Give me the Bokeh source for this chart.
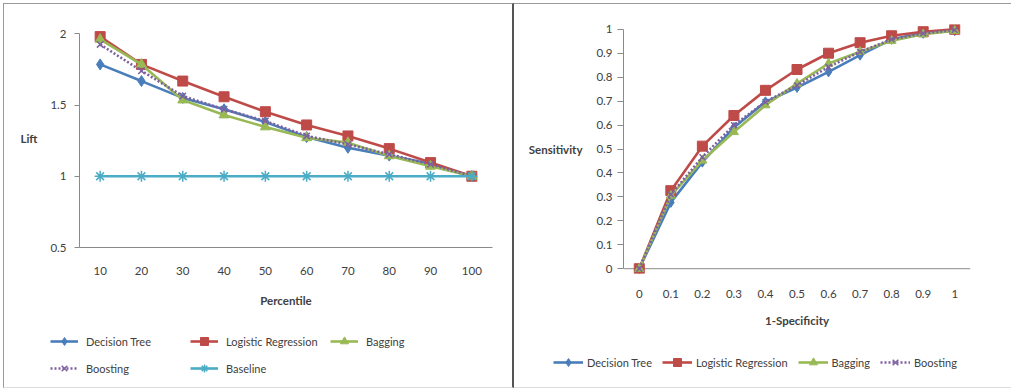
from bokeh.plotting import figure
from bokeh.layouts import row, column
from bokeh.models import Range1d, FixedTicker, Legend, LegendItem, Span
from bokeh.embed import file_html
from bokeh.resources import INLINE

# ---------------- data: lift chart ----------------
percentiles = ["10", "20", "30", "40", "50", "60", "70", "80", "90", "100"]
lift_decision_tree = [1.785, 1.668, 1.55, 1.47, 1.38, 1.275, 1.20, 1.145, 1.088, 1.00]
lift_logistic = [1.98, 1.785, 1.668, 1.558, 1.453, 1.36, 1.283, 1.194, 1.096, 1.00]
lift_bagging = [1.96, 1.785, 1.535, 1.43, 1.346, 1.27, 1.236, 1.143, 1.07, 1.00]
lift_boosting = [1.925, 1.74, 1.563, 1.47, 1.388, 1.283, 1.224, 1.154, 1.084, 1.00]
lift_baseline = [1.0, 1.0, 1.0, 1.0, 1.0, 1.0, 1.0, 1.0, 1.0, 1.0]
lift_ticks = [0.5, 1, 1.5, 2]
lift_series = ["Decision Tree", "Logistic Regression", "Bagging", "Boosting", "Baseline"]

# ---------------- data: ROC chart ----------------
one_minus_spec = ["0", "0.1", "0.2", "0.3", "0.4", "0.5", "0.6", "0.7", "0.8", "0.9", "1"]
roc_decision_tree = [0, 0.277, 0.445, 0.59, 0.697, 0.757, 0.822, 0.892, 0.958, 0.983, 0.994]
roc_logistic = [0, 0.326, 0.512, 0.64, 0.745, 0.832, 0.90, 0.944, 0.973, 0.99, 1.0]
roc_bagging = [0, 0.305, 0.452, 0.571, 0.683, 0.773, 0.857, 0.906, 0.952, 0.979, 0.994]
roc_boosting = [0, 0.31, 0.466, 0.60, 0.697, 0.766, 0.843, 0.906, 0.958, 0.983, 0.997]
roc_ticks = [0, 0.1, 0.2, 0.3, 0.4, 0.5, 0.6, 0.7, 0.8, 0.9, 1]
roc_series = ["Decision Tree", "Logistic Regression", "Bagging", "Boosting"]

FONT = "Lato"
TXT = "#404040"
AX = "#8a8a8a"
BLUE = "#4a7ebb"
RED = "#be4b48"
GREEN = "#98b954"
PURPLE = "#7d60a0"
CYAN = "#4bacc6"

STYLE = {  # color, marker, size, dash
    "Decision Tree": (BLUE, "diamond", 11, "solid"),
    "Logistic Regression": (RED, "square", 10, "solid"),
    "Bagging": (GREEN, "triangle", 10, "solid"),
    "Boosting": (PURPLE, "x", 9, "2 2"),
    "Baseline": (CYAN, "asterisk", 11, "solid"),
}
NAN = float("nan")


def style_axes(p):
    for ax in (p.xaxis[0], p.yaxis[0]):
        ax.axis_line_color = AX
        ax.major_tick_line_color = AX
        ax.minor_tick_line_color = None
        ax.major_label_text_font = FONT
        ax.major_label_text_font_size = "11.5px"
        ax.major_label_text_color = TXT
        ax.axis_label_text_font = FONT
        ax.axis_label_text_font_size = "11.5px"
        ax.axis_label_text_font_style = "bold"
        ax.axis_label_text_color = TXT
    p.xaxis.major_tick_line_color = None
    p.xaxis.major_tick_out = 0
    p.xaxis.major_tick_in = 0
    p.xgrid.visible = False
    p.ygrid.visible = False
    p.outline_line_color = None
    p.background_fill_color = "white"
    p.border_fill_color = "white"


def add_series(p, x, y, name, size=None):
    color, marker, msize, dash = STYLE[name]
    if size is not None:
        msize = size
    l = p.line(x, y, line_color=color, line_width=2.6, line_dash=dash)
    if marker in ("x", "asterisk"):
        s = p.scatter(x, y, marker=marker, size=msize, line_color=color, line_width=1.5)
    else:
        s = p.scatter(x, y, marker=marker, size=msize, fill_color=color, line_color=color)
    return [l, s]


def legend_figure(names, width, height, location, ncols, spacing, glyph_width, label_standoff, label_width):
    f = figure(width=width, height=height, output_backend="svg", toolbar_location=None,
               x_axis_type=None, y_axis_type=None, min_border=0,
               min_border_left=0, min_border_right=0, min_border_top=0, min_border_bottom=0,
               x_range=Range1d(0, 1), y_range=Range1d(0, 1))
    f.outline_line_color = None
    f.xgrid.visible = False
    f.ygrid.visible = False
    items = []
    for name in names:
        # placeholder renderers (no visible data) only supply the legend glyph styles
        items.append(LegendItem(label=name, renderers=add_series(f, [NAN], [NAN], name)))
    leg = Legend(items=items, orientation="horizontal", ncols=ncols, location=location,
                 padding=0, margin=0, spacing=spacing, border_line_color=None,
                 background_fill_alpha=0, glyph_width=glyph_width, glyph_height=20,
                 label_height=20, label_width=label_width, label_standoff=label_standoff,
                 label_text_font=FONT, label_text_font_size="11px", label_text_color=TXT)
    f.add_layout(leg)
    return f


# ---------------- left: lift ----------------
p1 = figure(width=508, height=320, x_range=percentiles, y_range=Range1d(0.5, 2.03),
            output_backend="svg", toolbar_location=None,
            min_border_left=75, min_border_right=20, min_border_top=25, min_border_bottom=77)
style_axes(p1)
p1.yaxis.ticker = FixedTicker(ticks=lift_ticks)
p1.yaxis.major_label_overrides = {t: f"{t:g}" for t in lift_ticks}
p1.yaxis.bounds = (0.5, 2)
p1.yaxis.major_tick_in = 0
p1.yaxis.major_tick_out = 5
p1.yaxis.major_label_standoff = 8
p1.yaxis.axis_label = "Lift"
p1.yaxis.axis_label_orientation = "horizontal"
p1.yaxis.axis_label_standoff = 10
p1.xaxis.axis_label = "Percentile"
p1.xaxis.major_label_standoff = 19
p1.xaxis.axis_label_standoff = 16

add_series(p1, percentiles, lift_decision_tree, "Decision Tree")
add_series(p1, percentiles, lift_logistic, "Logistic Regression")
add_series(p1, percentiles, lift_bagging, "Bagging")
add_series(p1, percentiles, lift_boosting, "Boosting")
add_series(p1, percentiles, lift_baseline, "Baseline")

l1 = legend_figure(lift_series, 508, 63, (46, 9), 3, 7, 28, 8, 97)

left = column(p1, column(l1, spacing=0), spacing=0, margin=(3, 0, 0, 3),
              styles={"border-top": "1px solid #9a9a9a", "border-left": "1px solid #9a9a9a",
                      "border-bottom": "1px solid #dcdcdc", "border-right": "2px solid #555555"})

# ---------------- right: ROC ----------------
p2 = figure(width=497, height=335, x_range=one_minus_spec, y_range=Range1d(-0.02, 1.02),
            output_backend="svg", toolbar_location=None,
            min_border_left=109, min_border_right=41, min_border_top=20, min_border_bottom=66)
style_axes(p2)
p2.yaxis.ticker = FixedTicker(ticks=roc_ticks)
p2.yaxis.major_label_overrides = {t: f"{t:g}" for t in roc_ticks}
p2.yaxis.bounds = (0, 1)
p2.yaxis.major_tick_in = 0
p2.yaxis.major_tick_out = 6
p2.yaxis.major_label_standoff = 5
p2.yaxis.axis_label = "Sensitivity"
p2.yaxis.axis_label_orientation = "horizontal"
p2.yaxis.axis_label_standoff = 11
p2.xaxis.axis_label = "1-Specificity"
p2.xaxis.axis_line_color = None
p2.xaxis.major_label_standoff = 16
p2.xaxis.axis_label_standoff = 13
p2.add_layout(Span(location=0, dimension="width", line_color=AX, line_width=1, level="underlay"))

add_series(p2, one_minus_spec, roc_decision_tree, "Decision Tree", 10)
add_series(p2, one_minus_spec, roc_logistic, "Logistic Regression", 10)
add_series(p2, one_minus_spec, roc_bagging, "Bagging", 9)
add_series(p2, one_minus_spec, roc_boosting, "Boosting", 8)

l2 = legend_figure(roc_series, 497, 48, (39, 15), "auto", 10, 30, 4, 0)

right = column(p2, column(l2, spacing=0), spacing=0, margin=(3, 0, 0, 0),
               styles={"border-top": "1px solid #9a9a9a", "border-bottom": "1px solid #dcdcdc"})

layout = row(left, right, spacing=0)
open("out.html", "w").write(file_html(layout, INLINE))
